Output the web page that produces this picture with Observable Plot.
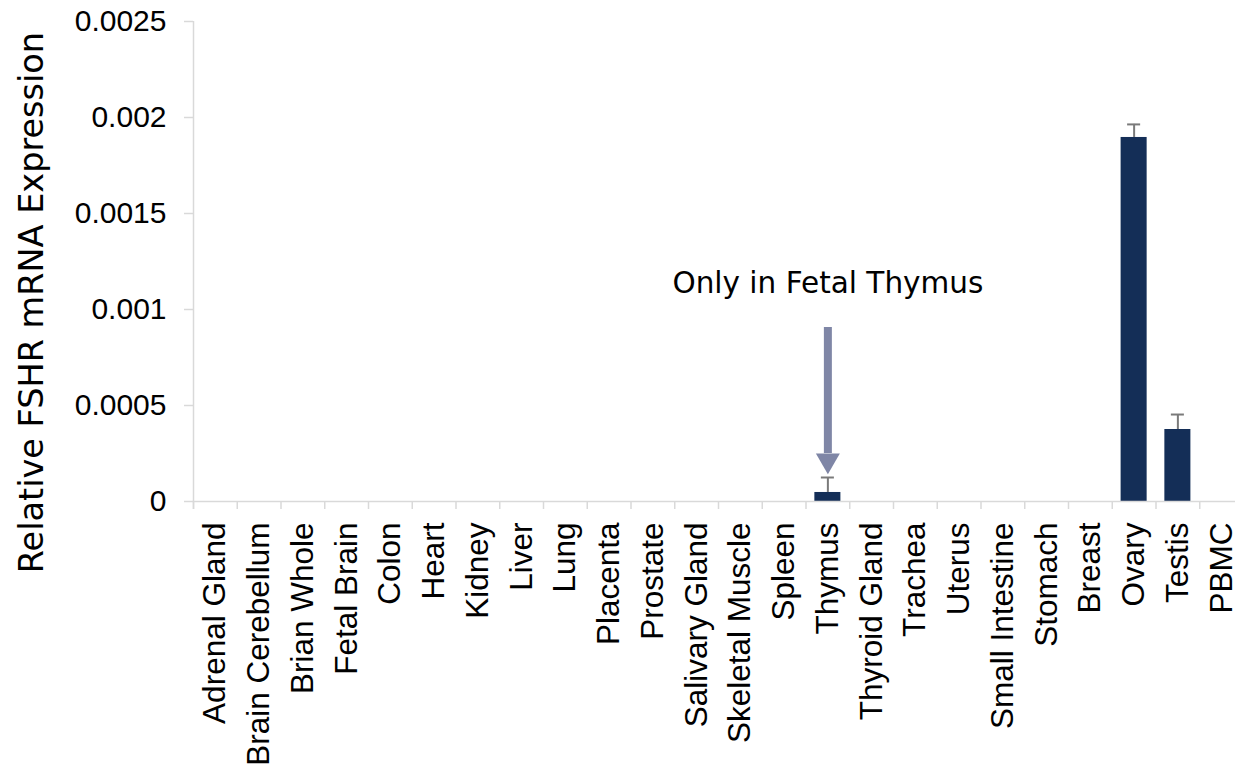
<!DOCTYPE html>
<html>
<head>
<meta charset="utf-8">
<script src="https://cdn.jsdelivr.net/npm/d3@7"></script>
<script src="https://cdn.jsdelivr.net/npm/@observablehq/plot@0.6"></script>
<style>
  html, body { margin: 0; padding: 0; background: #fff; }
  #chart { width: 1235px; height: 772px; overflow: hidden; }
</style>
</head>
<body>
<div id="chart"></div>
<script>
const tissues = ["Adrenal Gland", "Brain Cerebellum", "Brian Whole", "Fetal Brain", "Colon", "Heart", "Kidney", "Liver", "Lung", "Placenta", "Prostate", "Salivary Gland", "Skeletal Muscle", "Spleen", "Thymus", "Thyroid Gland", "Trachea", "Uterus", "Small Intestine", "Stomach", "Breast", "Ovary", "Testis", "PBMC"];
const expression = [0, 0, 0, 0, 0, 0, 0, 0, 0, 0, 0, 0, 0, 0, 0.000047, 0, 0, 0, 0, 0, 0, 0.001896, 0.000375, 0];
const errorTop = [null, null, null, null, null, null, null, null, null, null, null, null, null, null, 0.000125, null, null, null, null, null, null, 0.001964, 0.000453, null];
const yTicks = [0, 0.0005, 0.001, 0.0015, 0.002, 0.0025];
const yTitle = "Relative FSHR mRNA Expression";
const annotation = "Only in Fetal Thymus";
const annotatedTissue = "Thymus";
const arrowTop = 0.000906;
const arrowBase = 0.00025;
const arrowHeadCenter = 0.000214;
const annotationY = 0.001135;
const titleY = 0.001036;

const data = tissues.map((t, i) => ({tissue: t, value: expression[i], hi: errorTop[i]}));
const errData = data.filter(d => d.hi != null);

const W = 1235, H = 772, mL = 193, mR = -8, mT = 21, mB = 271;
const step = (W - mR - mL) / tissues.length;
const tickLen = 8 / (H - mT - mB) * 0.0025;

const chart = Plot.plot({
  width: W,
  height: H,
  marginLeft: mL,
  marginRight: mR,
  marginTop: mT,
  marginBottom: mB,
  style: {fontFamily: "'Liberation Sans', Arial, sans-serif", background: "white", color: "black", overflow: "visible"},
  x: {type: "band", domain: tissues, paddingInner: 0.405, paddingOuter: 0.2025, round: false, axis: null},
  y: {domain: [0, 0.0025], axis: null},
  marks: [
    Plot.barY(data, {x: "tissue", y: "value", fill: "#142e57"}),
    Plot.ruleX(errData, {x: "tissue", y1: "value", y2: "hi", stroke: "#7a7a7a", strokeWidth: 2}),
    Plot.tickY(errData, {x: "tissue", y: "hi", stroke: "#7a7a7a", strokeWidth: 2, insetLeft: 6.5, insetRight: 6.5}),
    Plot.frame({anchor: "bottom", stroke: "#d9d9d9", strokeWidth: 1.5}),
    Plot.ruleX(tissues, {x: d => d, dx: -step / 2, y1: -tickLen, y2: 0, stroke: "#d9d9d9", strokeWidth: 1.5}),
    Plot.ruleX([tissues[0]], {x: d => d, dx: -step / 2, y1: -tickLen, y2: 0.0025, stroke: "#d9d9d9", strokeWidth: 1.5}),
    Plot.axisY({ticks: yTicks, tickFormat: d => String(d), tickSize: 9, tickPadding: 18, fontSize: 30, stroke: "#d9d9d9", strokeWidth: 1.5, fill: "black", label: null}),
    Plot.axisX({tickSize: 0, tickPadding: 21, tickRotate: -90, fontSize: 31.5, fill: "black", label: null}),
    Plot.ruleX([annotatedTissue], {x: d => d, y1: arrowBase, y2: arrowTop, stroke: "#7f86a6", strokeWidth: 8}),
    Plot.dot([annotatedTissue], {x: d => d, y: arrowHeadCenter, symbol: "triangle", rotate: 180, r: 8.9, fill: "#7f86a6", stroke: null}),
    Plot.text([annotation], {x: () => annotatedTissue, y: annotationY, text: d => d, fontSize: 29.5, fontFamily: "'DejaVu Sans', sans-serif", fill: "black"}),
    Plot.text([yTitle], {frameAnchor: "left", y: titleY, text: d => d, dx: -161, rotate: -90, textAnchor: "middle", fontSize: 33.5, fontFamily: "'DejaVu Sans', sans-serif", fill: "black"})
  ]
});
document.getElementById("chart").appendChild(chart);
</script>
</body>
</html>
